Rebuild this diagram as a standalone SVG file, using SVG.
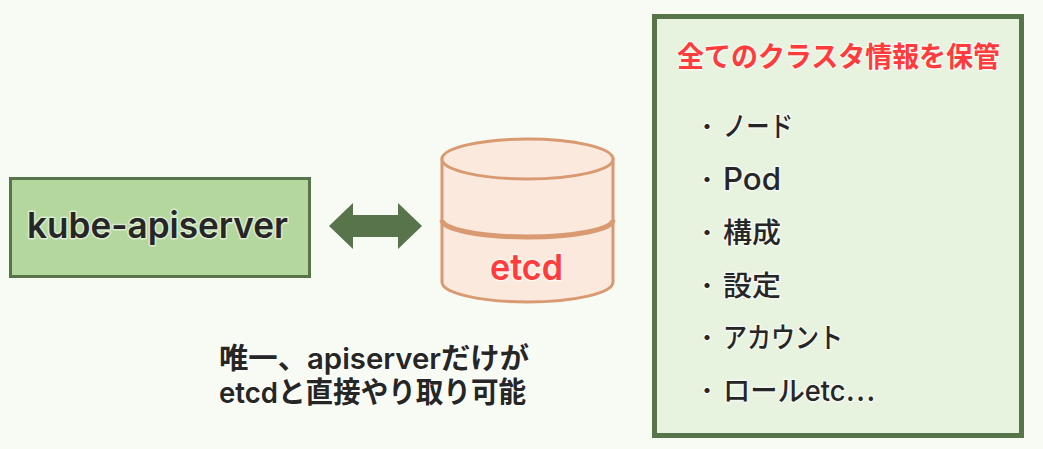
<svg xmlns="http://www.w3.org/2000/svg" width="1043" height="449" viewBox="0 0 1043 449">
<style>
text{font-family:Inter,"Noto Sans CJK JP",sans-serif;font-weight:600;fill:#262626;paint-order:stroke;stroke:#fff;stroke-opacity:.55;stroke-width:3px;stroke-linejoin:round}
.red{fill:#ff3b3b}
.cyl{fill:#fbe9dd;stroke:#d99a72;stroke-width:3}
.item{font-size:28px;font-weight:500}
.dot{font-size:20px;font-weight:700}
.cjk{font-family:"Noto Sans CJK JP",sans-serif}
</style>
<rect width="1043" height="449" fill="#f7fbf4"/>
<g id="kube-apiserver">
<rect x="10.500" y="178.500" width="299" height="98" fill="#b4d79d" stroke="#57744a" stroke-width="3"/>
<text x="27" y="238" font-size="36" textLength="261" lengthAdjust="spacingAndGlyphs">kube-apiserver</text>
</g>
<g id="connectors">
<path d="M329 226 L353 203 V215 H398 V203 L422 226 L398 249 V237 H353 V249 Z" fill="#57744a"/>
</g>
<g id="etcd">
<path class="cyl" d="M442 159 V282 A85.500 20 0 0 0 613 282 V159 Z"/>
<ellipse class="cyl" cx="527.500" cy="159" rx="85.500" ry="20"/>
<path d="M442 220 A85.500 17 0 0 0 613 220" fill="none" stroke="#d99a72" stroke-width="5"/>
<text class="red" x="490" y="280" font-size="36" textLength="73" lengthAdjust="spacingAndGlyphs">etcd</text>
</g>
<g id="note">
<text x="219" y="369" font-size="29" textLength="310" lengthAdjust="spacingAndGlyphs">唯一、apiserverだけが</text>
<text x="219" y="403" font-size="29" textLength="307" lengthAdjust="spacingAndGlyphs">etcdと直接やり取り可能</text>
</g>
<g id="info">
<rect x="654.500" y="16.500" width="367" height="419" fill="#e7f2df" stroke="#57744a" stroke-width="5"/>
<text class="red" x="677" y="67" font-size="28" textLength="323" lengthAdjust="spacingAndGlyphs">全てのクラスタ情報を保管</text>
<text class="dot" x="697" y="134">・</text><text class="item" x="723" y="137" textLength="70" lengthAdjust="spacingAndGlyphs">ノード</text>
<text class="dot" x="697" y="187">・</text><text class="item" x="723" y="190" font-size="31" textLength="58" lengthAdjust="spacingAndGlyphs" style="font-size:31px">Pod</text>
<text class="dot" x="697" y="240">・</text><text class="item" x="723" y="243" textLength="58" lengthAdjust="spacingAndGlyphs">構成</text>
<text class="dot" x="697" y="293">・</text><text class="item" x="723" y="296" textLength="58" lengthAdjust="spacingAndGlyphs">設定</text>
<text class="dot" x="697" y="345">・</text><text class="item" x="723" y="348" textLength="120" lengthAdjust="spacingAndGlyphs">アカウント</text>
<text class="dot" x="697" y="398">・</text><text class="item" x="723" y="401" textLength="152" lengthAdjust="spacingAndGlyphs">ロールetc<tspan class="cjk">…</tspan></text>
</g>
</svg>
